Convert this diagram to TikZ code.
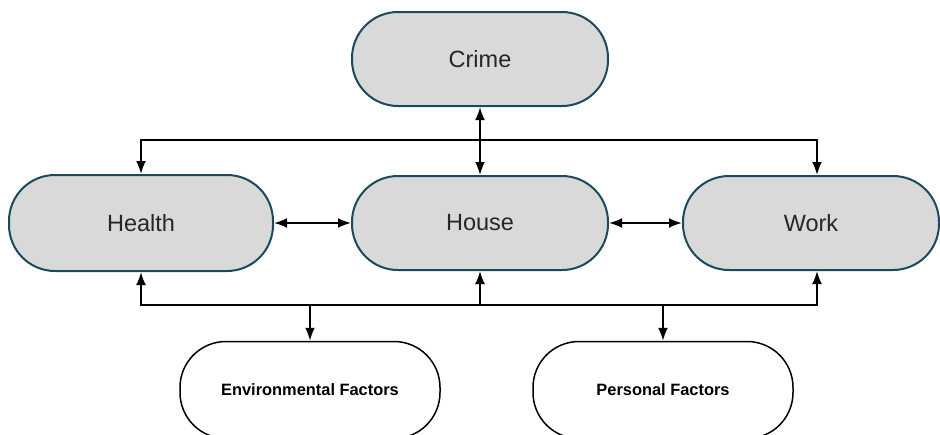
\documentclass[tikz,border=0pt]{standalone}
\usepackage{fontspec}
\setmainfont{Liberation Sans}
\usetikzlibrary{arrows.meta}
\definecolor{nodeedge}{HTML}{1B4A5E}
\definecolor{nodefill}{HTML}{D9D9D9}
\definecolor{nodetext}{HTML}{262626}

\begin{document}
\begin{tikzpicture}[x=1pt,y=-1pt,
  factor/.style={draw=nodeedge,fill=nodefill,line width=2pt,rounded corners=46pt,
    minimum width=256pt,minimum height=94pt,text=nodetext,
    font=\fontsize{23.5}{28}\selectfont},
  source/.style={draw=black,fill=white,line width=1.5pt,rounded corners=46pt,
    minimum width=260pt,minimum height=97pt,
    font=\bfseries\fontsize{16.4}{20}\selectfont},
  link/.style={line width=2pt,{Latex[length=13pt,width=10pt]}-{Latex[length=13pt,width=10pt]}},
  feed/.style={line width=2pt,-{Latex[length=13pt,width=10pt]}}]
  \useasboundingbox (0,0) rectangle (940,434);
  \node[factor] (crime) at (480,59) {Crime};
  \node[factor,minimum width=264pt,minimum height=96pt] (health) at (141,223) {Health};
  \node[factor] (house) at (480,223) {House};
  \node[factor] (work) at (811,223) {Work};
  \node[source] (env) at (310,390) {Environmental Factors};
  \node[source] (pers) at (663,390) {Personal Factors};
  \coordinate (topbus) at (480,140);
  \coordinate (lowbus) at (480,305);
  % crime feeds the middle row
  \draw[link] (crime) -- (house);
  \draw[feed] (topbus) -| (health.north);
  \draw[feed] (topbus) -| ([xshift=6pt]work.north);
  \draw[link] (health) -- (house);
  \draw[link] (house) -- (work);
  % factors feed the middle row
  \draw[feed] (lowbus) -| (health.south);
  \draw[feed] (lowbus) -- (house.south);
  \draw[feed] (lowbus) -| ([xshift=6pt]work.south);
  \draw[feed] (env.north |- lowbus) -- (env.north);
  \draw[feed] (pers.north |- lowbus) -- (pers.north);
\end{tikzpicture}
\end{document}
